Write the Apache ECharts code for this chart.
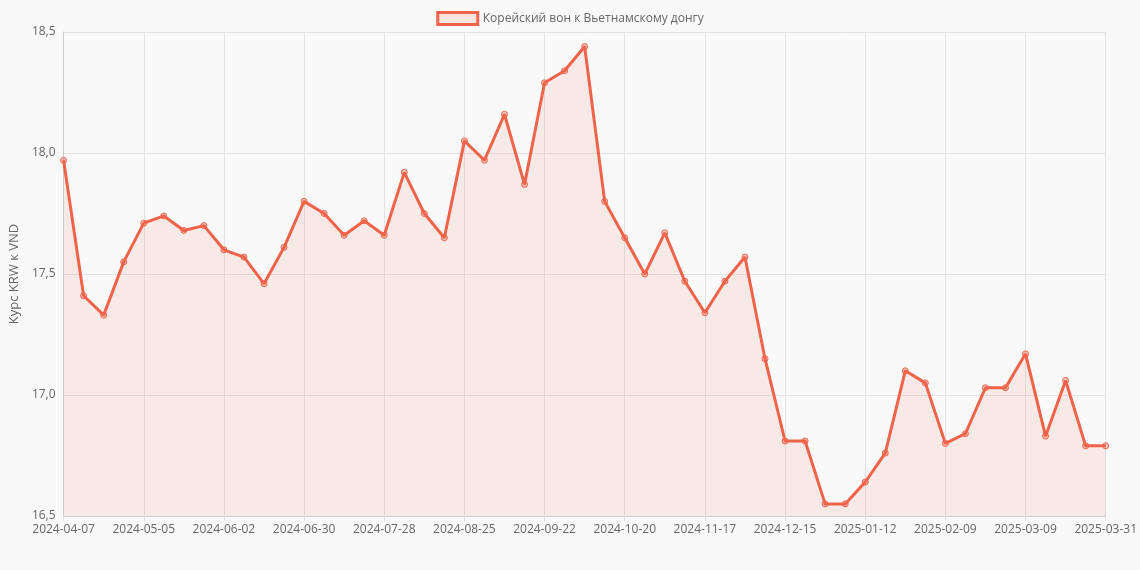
<!DOCTYPE html>
<html>
<head>
<meta charset="utf-8">
<script src="https://cdn.jsdelivr.net/npm/echarts@6/dist/echarts.min.js"></script>
<style>
  html, body { margin: 0; padding: 0; background: #f9f9f9; }
  #chart { width: 1140px; height: 570px; }
</style>
</head>
<body>
<div id="chart"></div>
<script>
// Weekly KRW -> VND rate
const dates = [
    '2024-04-07', '2024-04-14', '2024-04-21', '2024-04-28', '2024-05-05', '2024-05-12', '2024-05-19', '2024-05-26',
    '2024-06-02', '2024-06-09', '2024-06-16', '2024-06-23', '2024-06-30', '2024-07-07', '2024-07-14', '2024-07-21',
    '2024-07-28', '2024-08-04', '2024-08-11', '2024-08-18', '2024-08-25', '2024-09-01', '2024-09-08', '2024-09-15',
    '2024-09-22', '2024-09-29', '2024-10-06', '2024-10-13', '2024-10-20', '2024-10-27', '2024-11-03', '2024-11-10',
    '2024-11-17', '2024-11-24', '2024-12-01', '2024-12-08', '2024-12-15', '2024-12-22', '2024-12-29', '2025-01-05',
    '2025-01-12', '2025-01-19', '2025-01-26', '2025-02-02', '2025-02-09', '2025-02-16', '2025-02-23', '2025-03-02',
    '2025-03-09', '2025-03-16', '2025-03-23', '2025-03-30', '2025-03-31'
];

const rates = [
    17.97, 17.41, 17.33, 17.55, 17.71, 17.74, 17.68, 17.70,
    17.60, 17.57, 17.46, 17.61, 17.80, 17.75, 17.66, 17.72,
    17.66, 17.92, 17.75, 17.65, 18.05, 17.97, 18.16, 17.87,
    18.29, 18.34, 18.44, 17.80, 17.65, 17.50, 17.67, 17.47,
    17.34, 17.47, 17.57, 17.15, 16.81, 16.81, 16.55, 16.55,
    16.64, 16.76, 17.10, 17.05, 16.80, 16.84, 17.03, 17.03,
    17.17, 16.83, 17.06, 16.79, 16.79
];

const chart = echarts.init(document.getElementById('chart'));
const lineColor = '#f0634b';
const showLabel = (i) => i % 4 === 0 || i === dates.length - 1;

chart.setOption({
    backgroundColor: '#f9f9f9',
    animation: false,
    textStyle: { fontFamily: 'Open Sans, Liberation Sans, sans-serif' },
    legend: {
        top: 6,
        data: [{
            name: 'Корейский вон к Вьетнамскому донгу',
            itemStyle: { color: 'rgba(240,99,75,0.15)', borderColor: lineColor, borderWidth: 3 }
        }],
        itemWidth: 40,
        itemHeight: 12,
        icon: 'rect',
        textStyle: { color: '#666', fontSize: 12 }
    },
    grid: { left: 60, right: 34, top: 32, bottom: 54 },
    xAxis: {
        type: 'category',
        data: dates,
        boundaryGap: false,
        axisLine: { lineStyle: { color: '#ccc' } },
        axisTick: { show: true, interval: showLabel, lineStyle: { color: '#ddd' } },
        axisLabel: { color: '#666', fontSize: 12, interval: showLabel },
        splitLine: { show: true, interval: showLabel, lineStyle: { color: '#e2e2e2' } }
    },
    yAxis: {
        type: 'value',
        min: 16.5,
        max: 18.5,
        interval: 0.5,
        name: 'Курс KRW к VND',
        nameLocation: 'middle',
        nameGap: 42,
        nameTextStyle: { color: '#666', fontSize: 13 },
        axisLine: { show: true, lineStyle: { color: '#ccc' } },
        axisLabel: { color: '#666', fontSize: 12, formatter: v => v.toFixed(1).replace('.', ',') },
        splitLine: { lineStyle: { color: '#e2e2e2' } }
    },
    series: [{
        name: 'Корейский вон к Вьетнамскому донгу',
        type: 'line',
        data: rates,
        symbol: 'circle',
        symbolSize: 6,
        itemStyle: { color: 'rgba(240,99,75,0.35)', borderColor: lineColor, borderWidth: 1 },
        lineStyle: { color: lineColor, width: 3 },
        areaStyle: { color: 'rgba(240,110,80,0.15)', origin: 'start' }
    }]
});
</script>
</body>
</html>
